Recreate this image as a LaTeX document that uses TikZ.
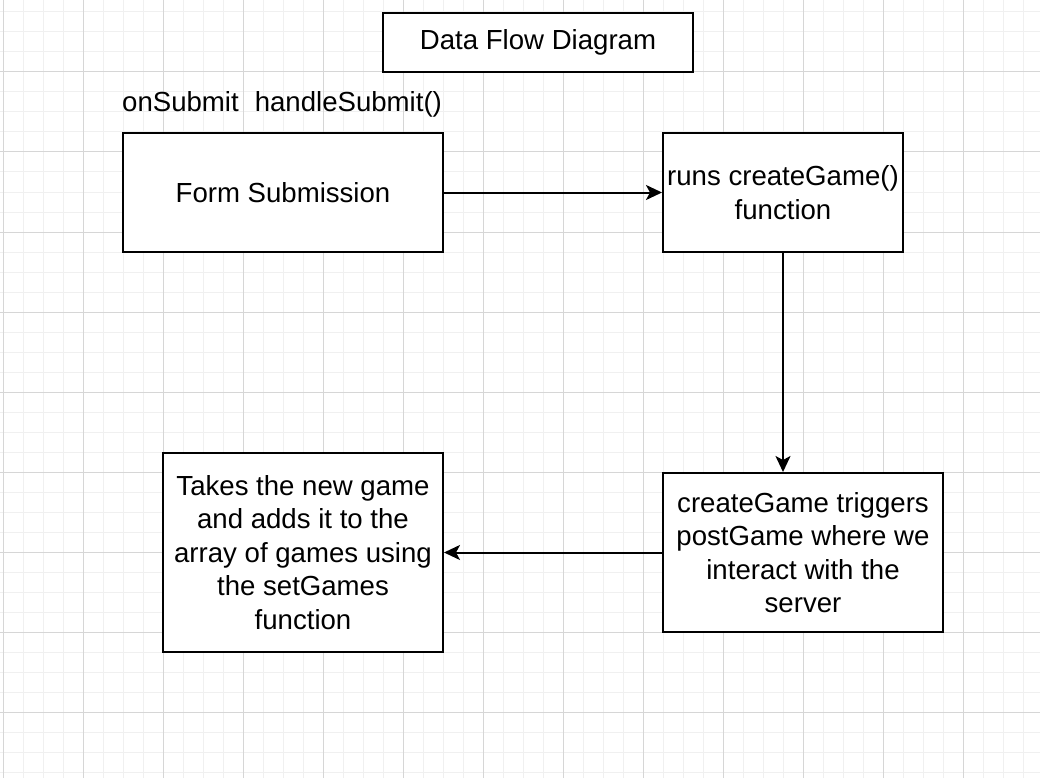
\documentclass[tikz,border=0pt]{standalone}
\usepackage{fontspec}
\setmainfont{Liberation Sans}
\usetikzlibrary{arrows.meta}
\tikzset{
  minorgrid/.style={draw=black!6,line width=1pt},
  majorgrid/.style={draw=black!16,line width=1pt},
  box/.style={draw=black,line width=2pt,fill=white,rectangle,inner sep=0pt,align=center,
    font=\fontsize{27.6}{33.5}\selectfont},
  flow/.style={draw=black,line width=2pt,-{Stealth[length=16pt,width=15pt,inset=4pt]}},
  lbl/.style={inner sep=0pt,font=\fontsize{27.6}{33.5}\selectfont}
}
\begin{document}
\begin{tikzpicture}[x=1pt,y=-1pt]
\useasboundingbox (0,0) rectangle (1040,778);
\fill[white] (0,0) rectangle (1040,778);
% grid
\foreach \i in {0,...,51}{
  \pgfmathsetmacro{\gx}{3+20*\i}
  \draw[minorgrid] (\gx,0) -- (\gx,778);
}
\foreach \i in {0,...,38}{
  \pgfmathsetmacro{\gy}{12+20*\i}
  \draw[minorgrid] (0,\gy) -- (1040,\gy);
}
\foreach \i in {0,...,12}{
  \pgfmathsetmacro{\gx}{3+80*\i}
  \draw[majorgrid] (\gx,0) -- (\gx,778);
}
\foreach \i in {0,...,9}{
  \pgfmathsetmacro{\gy}{-8+80*\i}
  \draw[majorgrid] (0,\gy) -- (1040,\gy);
}
% nodes
\node[box,minimum width=310pt,minimum height=59pt] (title) at (538,42.5) {Data Flow Diagram};
\node[lbl,anchor=west] (onsub) at (122,104) {onSubmit\hspace{16pt}handleSubmit()};
\node[box,minimum width=320pt,minimum height=119pt] (form) at (283,192.5) {Form Submission};
\node[box,minimum width=240pt,minimum height=119pt] (create) at (783,192.5) {runs createGame()\\function};
\node[box,minimum width=280pt,minimum height=159pt] (post) at (803,552.5) {createGame triggers\\postGame where we\\interact with the\\server};
\node[box,minimum width=280pt,minimum height=199pt] (takes) at (303,552.5) {Takes the new game\\and adds it to the\\array of games using\\the setGames\\function};
% connectors
\draw[flow] (form.east) -- (create.west);
\draw[flow] (create.south) -- (create.south |- post.north);
\draw[flow] (post.west) -- (takes.east);
\end{tikzpicture}
\end{document}
